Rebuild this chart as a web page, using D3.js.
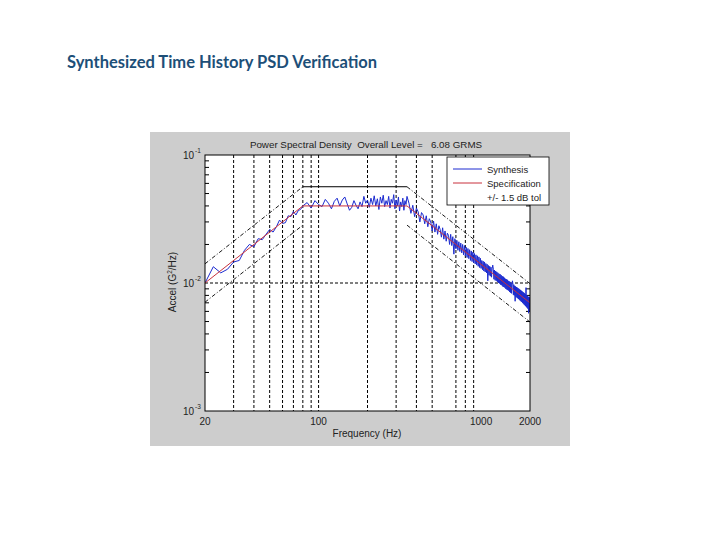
<!DOCTYPE html>
<html><head><meta charset="utf-8">
<script src="https://cdn.jsdelivr.net/npm/d3@7"></script>
<style>body{margin:0;background:#fff}svg{display:block}text{white-space:pre}</style>
</head><body>
<svg id="c" width="720" height="540"></svg>
<script>
// ---- data ----
const specFreq = [20, 80, 350, 2000];
const specValue = [0.01, 0.04, 0.04, 0.007];
const tolDb = 1.5;
const gridFreqs = [30, 40, 50, 60, 70, 80, 90, 100, 200, 300, 400, 500, 700, 800, 900];
const xTickLabels = [20, 100, 1000, 2000];
const yTickExponents = [-1, -2, -3];
const seriesNames = ["Synthesis", "Specification", "+/- 1.5 dB tol"];

// synthesis PSD bins (uniform bins within each band)
const synthLowFreq = d3.range(20, 80.01, 2.5);
const synthLow = [0.0100,0.0134,0.0120,0.0128,0.0146,0.0150,0.0180,0.0200,0.0192,0.0222,
  0.0218,0.0240,0.0262,0.0250,0.0275,0.0310,0.0292,0.0296,0.0335,0.0330,
  0.0362,0.0340,0.0368,0.0376,0.0400];
const synthMidFreq = d3.range(85, 350.01, 5);
const synthMid = [0.0425,0.0385,0.0440,0.0410,0.0395,0.0450,0.0420,0.0380,0.0435,0.0460,
  0.0400,0.0445,0.0470,0.0415,0.0370,0.0390,0.0440,0.0405,0.0380,0.0430,
  0.0395,0.0475,0.0420,0.0445,0.0390,0.0460,0.0410,0.0480,0.0400,0.0455,
  0.0375,0.0470,0.0420,0.0485,0.0395,0.0440,0.0410,0.0475,0.0385,0.0450,
  0.0420,0.0490,0.0380,0.0445,0.0400,0.0470,0.0365,0.0430,0.0395,0.0460,
  0.0370,0.0440,0.0410,0.0475];
const synthHighFreq = d3.range(360, 2000.01, 10);
const synthHigh = [
  0.0420,0.0350,0.0405,0.0330,0.0385,0.0360,0.0300,0.0355,0.0340,0.0290,
  0.0335,0.0275,0.0318,0.0300,0.0255,0.0305,0.0250,0.0290,0.0240,0.0280,
  0.0262,0.0228,0.0270,0.0220,0.0255,0.0212,0.0245,0.0236,0.0200,0.0240,
  0.0196,0.0230,0.0168,0.0222,0.0185,0.0215,0.0180,0.0210,0.0176,0.0205,
  0.0172,0.0200,0.0166,0.0196,0.0163,0.0190,0.0158,0.0186,0.0155,0.0182,
  0.0150,0.0178,0.0147,0.0174,0.0144,0.0170,0.0141,0.0166,0.0138,0.0163,
  0.0135,0.0160,0.0132,0.0156,0.0130,
  0.0150,0.0127,0.0148,0.0124,0.0146,0.0122,0.0142,0.0120,0.0140,0.0104,
  0.0137,0.0115,0.0135,0.0113,0.0133,0.0111,0.0130,0.0138,0.0128,0.0107,
  0.0126,0.0105,0.0124,0.0104,0.0122,0.0102,0.0120,0.0100,0.0118,0.0099,
  0.0117,0.0097,0.0115,0.0096,0.0113,0.0094,0.0112,0.0093,0.0110,0.0092,
  0.0108,0.0090,0.0107,0.0089,0.0106,0.0088,0.0104,0.0087,0.0103,0.0085,
  0.0102,0.0084,0.0100,0.0083,0.0099,0.0104,0.0098,0.0081,0.0097,0.0080,
  0.0095,0.0072,0.0094,0.0078,0.0093,0.0077,0.0092,0.0076,0.0091,0.0075,
  0.0090,0.0074,0.0089,0.0073,0.0088,0.0072,0.0087,0.0071,0.0086,0.0070,
  0.0085,0.0069,0.0084,0.0068,0.0083,0.0067,0.0082,0.0066,0.0092,0.0065,
  0.0080,0.0064,0.0079,0.0063,0.0078,0.0058,0.0078,0.0060,0.0077,0.0062];

// ---- drawing ----
const svg = d3.select("#c");
svg.append("text").attr("x", 67).attr("y", 68)
  .attr("font-family", "Lato, 'Open Sans', sans-serif").attr("font-weight", "bold")
  .attr("font-size", 16.5).attr("fill", "#1d4f78")
  .text("Synthesized Time History PSD Verification");

// figure panel
svg.append("rect").attr("x", 150).attr("y", 132).attr("width", 420).attr("height", 314).attr("fill", "#cdcdcd");

const L = 205, R = 530, T = 155, B = 411;
const x = d3.scaleLog().domain([20, 2000]).range([L, R]);
const y = d3.scaleLog().domain([0.001, 0.1]).range([B, T]);

svg.append("rect").attr("x", L).attr("y", T).attr("width", R - L).attr("height", B - T).attr("fill", "#fff");
svg.append("clipPath").attr("id", "clip").append("rect").attr("x", L).attr("y", T).attr("width", R - L).attr("height", B - T);

const font = "Arial, 'Liberation Sans', sans-serif";
const txt = "#222";

// grid
const g = svg.append("g");
g.selectAll("line.vg").data(gridFreqs).join("line")
  .attr("x1", d => x(d)).attr("x2", d => x(d)).attr("y1", T).attr("y2", B)
  .attr("stroke", "#000").attr("stroke-width", 1).attr("stroke-dasharray", "3,2");
g.append("line").attr("x1", L).attr("x2", R).attr("y1", y(0.01)).attr("y2", y(0.01))
  .attr("stroke", "#000").attr("stroke-width", 1).attr("stroke-dasharray", "3,2");

// minor y ticks
const minorY = [];
[0.001, 0.01].forEach(b => { for (let k = 2; k <= 9; k++) minorY.push(b * k); });
g.selectAll("line.my").data(minorY).join("line")
  .attr("x1", L).attr("x2", L + 4).attr("y1", d => y(d)).attr("y2", d => y(d))
  .attr("stroke", "#000");
g.selectAll("line.myr").data(minorY).join("line")
  .attr("x1", R).attr("x2", R - 4).attr("y1", d => y(d)).attr("y2", d => y(d))
  .attr("stroke", "#000");

// data
const pd = svg.append("g").attr("clip-path", "url(#clip)");
const line = d3.line().x(d => x(d[0])).y(d => y(d[1]));
const zip = (a, b) => a.slice(0, Math.min(a.length, b.length)).map((f, i) => [f, b[i]]);
const synth = [].concat(zip(synthLowFreq, synthLow), zip(synthMidFreq, synthMid), zip(synthHighFreq, synthHigh));

const tolF = Math.pow(10, tolDb / 10);
const spec = specFreq.map((f, i) => [f, specValue[i]]);
const upper = spec.map(d => [d[0], d[1] * tolF]);
const lower = spec.map(d => [d[0], d[1] / tolF]);

const dashDot = "4,2,1,2";
pd.append("path").attr("d", line(upper.slice(0, 2))).attr("fill", "none").attr("stroke", "#000").attr("stroke-width", 0.9).attr("stroke-dasharray", dashDot);
pd.append("path").attr("d", line(upper.slice(1, 3))).attr("fill", "none").attr("stroke", "#000").attr("stroke-width", 1);
pd.append("path").attr("d", line(upper.slice(2, 4))).attr("fill", "none").attr("stroke", "#000").attr("stroke-width", 0.9).attr("stroke-dasharray", dashDot);
pd.append("path").attr("d", line(lower.slice(0, 2))).attr("fill", "none").attr("stroke", "#000").attr("stroke-width", 0.9).attr("stroke-dasharray", dashDot);
pd.append("path").attr("d", line(lower.slice(2, 4))).attr("fill", "none").attr("stroke", "#000").attr("stroke-width", 0.9).attr("stroke-dasharray", dashDot);

pd.append("path").attr("d", line(synth)).attr("fill", "none").attr("stroke", "#1c2bd0").attr("stroke-width", 1);
pd.append("path").attr("d", line(spec)).attr("fill", "none").attr("stroke", "#c8303c").attr("stroke-width", 1);

// frame
svg.append("rect").attr("x", L).attr("y", T).attr("width", R - L).attr("height", B - T)
  .attr("fill", "none").attr("stroke", "#000").attr("stroke-width", 1);

// x tick labels
svg.selectAll("text.xt").data(xTickLabels).join("text")
  .attr("x", d => x(d)).attr("y", B + 14).attr("text-anchor", "middle")
  .attr("font-family", font).attr("font-size", 10).attr("fill", txt).text(d => d);

// y tick labels
const yl = svg.selectAll("g.yt").data(yTickExponents).join("g")
  .attr("transform", d => `translate(${L - 7},${y(Math.pow(10, d)) + 4})`);
yl.append("text").attr("text-anchor", "end").attr("x", -4)
  .attr("font-family", font).attr("font-size", 10).attr("fill", txt).text("10");
yl.append("text").attr("x", -3).attr("y", -6)
  .attr("font-family", font).attr("font-size", 6.5).attr("fill", txt).text(d => d);

// title
svg.append("text").attr("x", 366).attr("y", 148).attr("text-anchor", "middle")
  .attr("font-family", font).attr("font-size", 9.8).attr("fill", txt)
  .text("Power Spectral Density  Overall Level =   6.08 GRMS");
svg.append("text").attr("x", 367).attr("y", 437).attr("text-anchor", "middle")
  .attr("font-family", font).attr("font-size", 10).attr("fill", txt)
  .text("Frequency (Hz)");
const ylab = svg.append("text").attr("transform", "translate(176,282) rotate(-90)")
  .attr("text-anchor", "middle").attr("font-family", font).attr("font-size", 10).attr("fill", txt);
ylab.append("tspan").text("Accel (G");
ylab.append("tspan").attr("font-size", 6.5).attr("dy", -4).text("2");
ylab.append("tspan").attr("dy", 4).text("/Hz)");

// legend
svg.append("rect").attr("x", 447).attr("y", 157).attr("width", 102).attr("height", 48)
  .attr("fill", "#fff").attr("stroke", "#000").attr("stroke-width", 0.8);
const legColors = ["#1c2bd0", "#c8303c", null];
seriesNames.forEach((n, i) => {
  const yy = 169 + i * 14;
  if (legColors[i]) svg.append("line").attr("x1", 453).attr("x2", 482).attr("y1", yy).attr("y2", yy)
    .attr("stroke", legColors[i]).attr("stroke-width", 1);
  svg.append("text").attr("x", 487).attr("y", yy + 3.5).attr("font-family", font)
    .attr("font-size", 9.5).attr("fill", txt).text(n);
});
</script>
</body></html>
